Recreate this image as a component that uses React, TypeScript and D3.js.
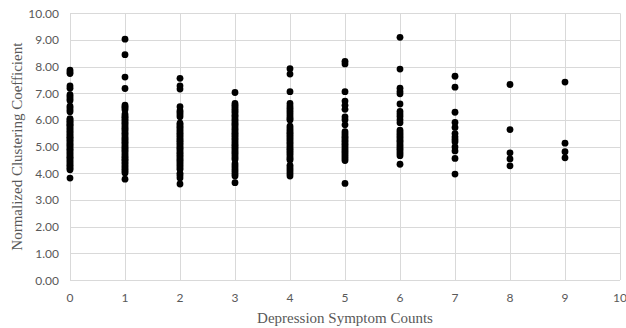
import React from "react";
import * as d3 from "d3";

// symptom count categories (x) and the normalized clustering coefficient of each subject (y)
const counts = [0, 1, 2, 3, 4, 5, 6, 7, 8, 9];

const col0 = [7.87, 7.8, 7.74, 7.28, 7.19, 6.95, 6.88, 6.8, 6.73, 6.52, 6.46, 6.38, 6.31, 6.05, 6.01, 5.95, 5.9, 5.84, 5.8, 5.74, 5.68, 5.62, 5.57, 5.52, 5.46, 5.4, 5.35, 5.3, 5.24, 5.18, 5.12, 5.07, 5.02, 4.96, 4.9, 4.85, 4.78, 4.72, 4.66, 4.6, 4.55, 4.48, 4.42, 4.36, 4.3, 4.24, 4.18, 4.13, 3.82];
const col1 = [9.03, 8.45, 7.61, 7.18, 6.56, 6.5, 6.45, 6.38, 6.22, 6.15, 6.1, 6.03, 5.97, 5.9, 5.85, 5.78, 5.71, 5.66, 5.6, 5.52, 5.47, 5.4, 5.33, 5.28, 5.21, 5.16, 5.1, 5.03, 4.97, 4.92, 4.86, 4.8, 4.73, 4.66, 4.6, 4.53, 4.48, 4.41, 4.35, 4.28, 4.22, 4.15, 4.08, 4.01, 3.78];
const col2 = [7.56, 7.28, 7.16, 6.5, 6.35, 6.28, 6.2, 6.12, 5.88, 5.82, 5.75, 5.7, 5.63, 5.57, 5.5, 5.44, 5.38, 5.31, 5.25, 5.2, 5.13, 5.07, 5.0, 4.94, 4.88, 4.81, 4.75, 4.68, 4.62, 4.55, 4.49, 4.42, 4.36, 4.29, 4.22, 4.15, 4.0, 3.92, 3.82, 3.6];
const col3 = [7.03, 6.62, 6.55, 6.48, 6.4, 6.33, 6.26, 6.18, 6.12, 6.04, 5.98, 5.9, 5.84, 5.77, 5.7, 5.64, 5.57, 5.5, 5.44, 5.38, 5.31, 5.25, 5.18, 5.11, 5.05, 4.98, 4.92, 4.85, 4.78, 4.72, 4.65, 4.58, 4.52, 4.36, 4.28, 4.2, 4.12, 4.05, 3.97, 3.9, 3.65];
const col4 = [7.92, 7.72, 7.06, 6.62, 6.52, 6.44, 6.36, 6.28, 6.2, 6.12, 6.05, 6.0, 5.77, 5.7, 5.63, 5.56, 5.5, 5.43, 5.36, 5.3, 5.23, 5.16, 5.1, 5.03, 4.96, 4.9, 4.83, 4.76, 4.7, 4.62, 4.55, 4.5, 4.3, 4.22, 4.14, 4.06, 3.98, 3.9];
const col5 = [8.2, 8.1, 7.06, 6.71, 6.55, 6.4, 6.12, 6.01, 5.82, 5.56, 5.48, 5.4, 5.34, 5.27, 5.2, 5.12, 5.06, 4.99, 4.92, 4.85, 4.78, 4.71, 4.63, 4.56, 4.48, 3.62];
const col6 = [9.1, 7.91, 7.19, 7.07, 6.98, 6.6, 6.32, 6.22, 6.13, 6.01, 5.9, 5.62, 5.55, 5.48, 5.41, 5.34, 5.26, 5.2, 5.12, 5.04, 4.97, 4.9, 4.82, 4.74, 4.66, 4.34];
const col7 = [7.64, 7.23, 6.29, 5.91, 5.72, 5.49, 5.37, 5.27, 5.18, 4.99, 4.84, 4.56, 3.97];
const col8 = [7.33, 5.64, 4.77, 4.54, 4.28];
const col9 = [7.42, 5.13, 4.81, 4.58];

const columns = [col0, col1, col2, col3, col4, col5, col6, col7, col8, col9];

const xTicks = [0, 1, 2, 3, 4, 5, 6, 7, 8, 9, 10];
const yTicks = [0, 1, 2, 3, 4, 5, 6, 7, 8, 9, 10];

const width = 626;
const height = 328;
const margin = { top: 13.3, right: 6, bottom: 48, left: 70 };

export default function App() {
  const x = d3
    .scaleLinear()
    .domain([0, 10])
    .range([margin.left, width - margin.right]);
  const y = d3
    .scaleLinear()
    .domain([0, 10])
    .range([height - margin.bottom, margin.top]);

  // flatten columns into points
  const points = counts.flatMap((c, i) => columns[i].map((v) => ({ c, v })));

  const tickFont = "Lato, 'Liberation Sans', sans-serif";
  const titleFont = "'Liberation Serif', 'Times New Roman', serif";

  return (
    <svg
      width={width}
      height={height}
      style={{ position: "absolute", left: 0, top: 0, background: "#fff" }}
    >
      {/* gridlines */}
      <g stroke="#d9d9d9" strokeWidth={1}>
        {yTicks.map((t) => (
          <line key={"h" + t} x1={x(0)} x2={x(10)} y1={Math.round(y(t)) + 0.5} y2={Math.round(y(t)) + 0.5} />
        ))}
        {xTicks.map((t) => (
          <line key={"v" + t} x1={Math.round(x(t)) + 0.5} x2={Math.round(x(t)) + 0.5} y1={y(10)} y2={y(0)} />
        ))}
      </g>

      {/* y tick labels */}
      <g fontFamily={tickFont} fontSize={12} fill="#595959" textAnchor="end">
        {yTicks.map((t) => (
          <text key={t} x={59} y={y(t) + 4.5}>
            {d3.format(".2f")(t)}
          </text>
        ))}
      </g>

      {/* x tick labels */}
      <g fontFamily={tickFont} fontSize={12} fill="#595959" textAnchor="middle">
        {xTicks.map((t) => (
          <text key={t} x={x(t)} y={302}>
            {t}
          </text>
        ))}
      </g>

      {/* points */}
      <g fill="#000">
        {points.map((p, i) => (
          <circle key={i} cx={x(p.c)} cy={y(p.v)} r={3.4} />
        ))}
      </g>

      {/* axis titles */}
      <text
        transform={`translate(22, ${(y(10) + y(0)) / 2}) rotate(-90)`}
        textAnchor="middle"
        fontFamily={titleFont}
        fontSize={15}
        fill="#595959"
      >
        Normalized Clustering Coefficient
      </text>
      <text
        x={345}
        y={323}
        textAnchor="middle"
        fontFamily={titleFont}
        fontSize={15}
        fill="#595959"
      >
        Depression Symptom Counts
      </text>
    </svg>
  );
}
